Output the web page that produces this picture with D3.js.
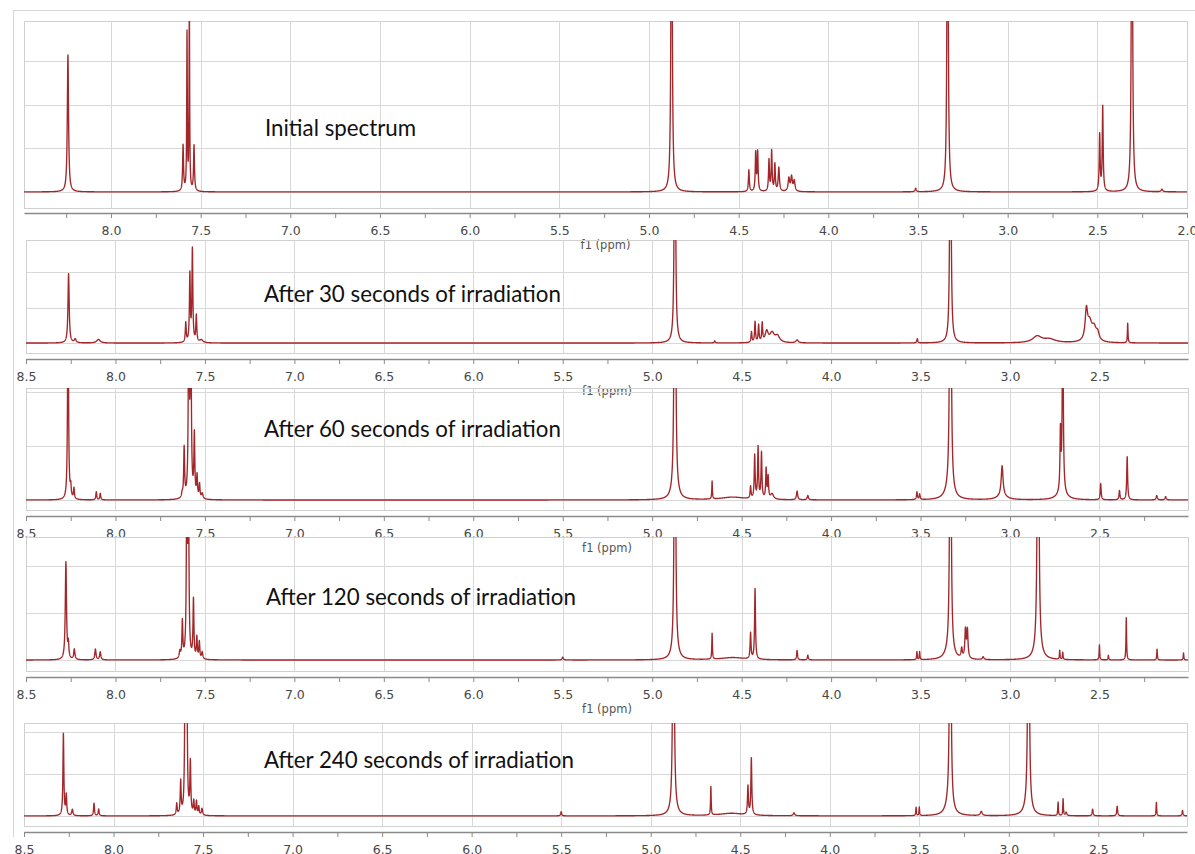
<!DOCTYPE html>
<html><head><meta charset="utf-8">
<script src="https://cdn.jsdelivr.net/npm/d3@7"></script>
<style>body{margin:0;background:#fff;} svg{display:block}</style>
</head><body>
<svg id="c" width="1195" height="854"></svg>
<script>
// ---------- DATA ----------
const panelTitles = [
  "Initial spectrum",
  "After 30 seconds of irradiation",
  "After 60 seconds of irradiation",
  "After 120 seconds of irradiation",
  "After 240 seconds of irradiation"
];
const axisLabel = "f1 (ppm)";
// peaks: [shift ppm, height (grid units), half-width ppm]
const peaksInitial = [
  [8.240, 3.15, 0.004], [7.598, 1.05, 0.003], [7.576, 3.6, 0.002], [7.563, 4.3, 0.002],
  [7.537, 1.05, 0.003], [4.874, 10, 0.0035], [4.443, 0.5, 0.003], [4.405, 0.88, 0.003],
  [4.394, 0.9, 0.003], [4.331, 0.72, 0.003], [4.316, 0.92, 0.003], [4.298, 0.62, 0.003],
  [4.276, 0.55, 0.004], [4.220, 0.3, 0.005], [4.205, 0.33, 0.005], [4.190, 0.24, 0.005],
  [3.513, 0.08, 0.004], [3.335, 10, 0.0035], [2.487, 1.3, 0.003], [2.470, 1.95, 0.003],
  [2.307, 10, 0.0035], [2.140, 0.06, 0.005]
];
const peaks30s = [
  [8.262, 1.95, 0.004], [8.225, 0.1, 0.006], [8.095, 0.1, 0.012], [7.607, 0.55, 0.003],
  [7.584, 1.9, 0.003], [7.570, 2.6, 0.003], [7.548, 0.75, 0.003], [7.520, 0.08, 0.01],
  [4.873, 10, 0.0035], [4.650, 0.06, 0.003], [4.445, 0.3, 0.003], [4.425, 0.58, 0.003],
  [4.405, 0.48, 0.003], [4.385, 0.52, 0.003], [4.360, 0.3, 0.01], [4.330, 0.26, 0.015],
  [4.300, 0.18, 0.015], [4.190, 0.08, 0.008], [3.518, 0.12, 0.003], [3.333, 10, 0.0035],
  [2.848, 0.18, 0.03], [2.780, 0.1, 0.04], [2.573, 0.8, 0.008], [2.555, 0.5, 0.015],
  [2.530, 0.35, 0.015], [2.510, 0.2, 0.01], [2.342, 0.55, 0.002]
];
const peaks60s = [
  [8.265, 4, 0.003], [8.250, 0.2, 0.003], [8.232, 0.2, 0.003], [8.107, 0.15, 0.003],
  [8.085, 0.12, 0.003], [7.627, 0.08, 0.004], [7.616, 0.92, 0.003], [7.590, 4, 0.003],
  [7.579, 4, 0.003], [7.559, 1.15, 0.003], [7.544, 0.4, 0.003], [7.530, 0.26, 0.003],
  [7.515, 0.1, 0.005], [4.873, 10, 0.0035], [4.873, 0.1, 0.02], [4.665, 0.33, 0.002],
  [4.550, 0.05, 0.08], [4.450, 0.22, 0.003], [4.427, 0.8, 0.003], [4.408, 0.95, 0.003],
  [4.389, 0.85, 0.003], [4.363, 0.55, 0.003], [4.352, 0.4, 0.003], [4.330, 0.1, 0.01],
  [4.190, 0.16, 0.004], [4.130, 0.08, 0.004], [3.520, 0.14, 0.003], [3.505, 0.1, 0.003],
  [3.333, 10, 0.0035], [3.340, 0.15, 0.025], [3.044, 0.55, 0.006], [3.044, 0.08, 0.03],
  [2.718, 1.1, 0.003], [2.705, 4, 0.003], [2.710, 0.12, 0.03], [2.493, 0.3, 0.003],
  [2.388, 0.17, 0.003], [2.345, 0.8, 0.003], [2.180, 0.08, 0.004], [2.130, 0.06, 0.004]
];
const peaks120s = [
  [8.277, 2.08, 0.004], [8.263, 0.3, 0.003], [8.230, 0.22, 0.004], [8.112, 0.23, 0.004],
  [8.085, 0.17, 0.004], [7.640, 0.15, 0.004], [7.626, 0.78, 0.003], [7.601, 4, 0.003],
  [7.592, 4, 0.003], [7.564, 1.25, 0.003], [7.545, 0.45, 0.003], [7.531, 0.36, 0.003],
  [7.515, 0.15, 0.004], [5.500, 0.06, 0.004], [4.873, 10, 0.0035], [4.870, 0.1, 0.02],
  [4.665, 0.55, 0.002], [4.550, 0.05, 0.08], [4.450, 0.55, 0.003], [4.425, 1.5, 0.003],
  [4.190, 0.2, 0.003], [4.130, 0.1, 0.003], [3.520, 0.17, 0.002], [3.505, 0.17, 0.002],
  [3.333, 10, 0.0035], [3.340, 0.15, 0.025], [3.270, 0.2, 0.004], [3.249, 0.6, 0.004],
  [3.238, 0.6, 0.004], [3.150, 0.06, 0.005], [2.843, 10, 0.004], [2.843, 0.12, 0.025],
  [2.722, 0.19, 0.002], [2.705, 0.15, 0.002], [2.500, 0.32, 0.002], [2.450, 0.1, 0.002],
  [2.350, 0.9, 0.002], [2.178, 0.23, 0.002], [2.030, 0.15, 0.002]
];
const peaks240s = [
  [8.280, 1.95, 0.003], [8.264, 0.48, 0.003], [8.230, 0.15, 0.004], [8.109, 0.3, 0.003],
  [8.083, 0.16, 0.003], [7.647, 0.27, 0.003], [7.625, 0.78, 0.003], [7.600, 4, 0.003],
  [7.591, 4, 0.003], [7.571, 1.22, 0.003], [7.552, 0.32, 0.003], [7.537, 0.32, 0.003],
  [7.524, 0.2, 0.003], [7.506, 0.16, 0.004], [5.500, 0.1, 0.003], [4.873, 10, 0.0035],
  [4.870, 0.1, 0.02], [4.664, 0.68, 0.002], [4.550, 0.06, 0.08], [4.457, 0.68, 0.003],
  [4.438, 1.35, 0.003], [4.200, 0.07, 0.005], [3.518, 0.2, 0.002], [3.500, 0.2, 0.002],
  [3.327, 10, 0.0035], [3.335, 0.25, 0.02], [3.154, 0.1, 0.006], [2.890, 10, 0.0035],
  [2.895, 0.2, 0.02], [2.725, 0.32, 0.002], [2.697, 0.4, 0.002], [2.680, 0.08, 0.004],
  [2.532, 0.16, 0.003], [2.395, 0.23, 0.003], [2.176, 0.32, 0.002], [2.030, 0.13, 0.003]
];
const allPeaks = [peaksInitial, peaks30s, peaks60s, peaks120s, peaks240s];
const ppmDomains = [[8.485, 2.0], [8.5, 2.005], [8.5, 2.005], [8.5, 2.005], [8.5, 2.005]];
const yDomains = [[-0.37, 3.93], [-0.28, 2.9], [-0.185, 2.07], [-0.234, 2.62], [-0.24, 2.21]];
const majorStep = 0.5, minorStep = 0.25;

// ---------- LAYOUT ----------
const layout = [
  {x0: 24, x1: 1187, top: 21, bottom: 208, axisY: 213, tx: 265, ty: 128, showLabel: true},
  {x0: 26, x1: 1188, top: 240, bottom: 353, axisY: 359, tx: 264, ty: 294, showLabel: true},
  {x0: 26, x1: 1188, top: 388, bottom: 510, axisY: 516, tx: 264, ty: 429, showLabel: true},
  {x0: 26, x1: 1188, top: 537, bottom: 671, axisY: 677, tx: 266, ty: 597, showLabel: true},
  {x0: 24, x1: 1187, top: 723, bottom: 826, axisY: 832, tx: 264, ty: 760, showLabel: false}
];
const lineColor = "#a1272b";
const svg = d3.select("#c");

// outer frame lines
svg.append("line").attr("x1", 13.5).attr("x2", 13.5).attr("y1", 10).attr("y2", 837)
  .attr("stroke", "#d6d6d6").attr("stroke-width", 1);
svg.append("line").attr("x1", 13).attr("x2", 1195).attr("y1", 10.5).attr("y2", 10.5)
  .attr("stroke", "#d6d6d6").attr("stroke-width", 1);

function lorentz(ppm, peaks) {
  let s = 0;
  for (const [c, h, w] of peaks) { const d = (ppm - c) / w; s += h / (1 + d * d); }
  return s;
}

layout.forEach((L, i) => {
  const dom = ppmDomains[i];
  const x = d3.scaleLinear().domain(dom).range([L.x0, L.x1]);
  const y = d3.scaleLinear().domain(yDomains[i]).range([L.bottom, L.top]);
  const g = svg.append("g");

  // grid
  const major = d3.range(Math.ceil(dom[1] / majorStep) * majorStep, dom[0] + 1e-9, majorStep)
    .map(v => +v.toFixed(2));
  g.append("g").selectAll("line").data(major.filter(v => v > dom[1] + 1e-6 && v < dom[0] - 1e-6)).join("line")
    .attr("x1", d => Math.round(x(d)) + 0.5).attr("x2", d => Math.round(x(d)) + 0.5)
    .attr("y1", L.top).attr("y2", L.bottom).attr("stroke", "#d8d8d8");
  const hgrid = d3.range(0, Math.floor(yDomains[i][1]) + 1);
  g.append("g").selectAll("line").data(hgrid).join("line")
    .attr("x1", L.x0).attr("x2", L.x1)
    .attr("y1", d => Math.round(y(d)) + 0.5).attr("y2", d => Math.round(y(d)) + 0.5)
    .attr("stroke", "#d8d8d8");
  g.append("rect").attr("x", L.x0 + 0.5).attr("y", L.top + 0.5)
    .attr("width", L.x1 - L.x0).attr("height", L.bottom - L.top)
    .attr("fill", "none").attr("stroke", "#d0d0d0");

  // spectrum
  const clipId = "clip" + i;
  svg.append("clipPath").attr("id", clipId).append("rect")
    .attr("x", L.x0).attr("y", L.top).attr("width", L.x1 - L.x0).attr("height", L.bottom - L.top);
  const pts = [];
  for (let p = dom[0]; p >= dom[1]; p -= 0.0005) pts.push([p, lorentz(p, allPeaks[i])]);
  const line = d3.line().x(d => x(d[0])).y(d => y(d[1]));
  g.append("path").attr("clip-path", `url(#${clipId})`).attr("d", line(pts))
    .attr("fill", "none").attr("stroke", lineColor).attr("stroke-width", 1.35)
    .attr("stroke-linejoin", "round");

  // axis
  const ticks = d3.range(Math.ceil(dom[1] / minorStep - 1e-6) * minorStep, dom[0] + 1e-6, minorStep)
    .map(v => +v.toFixed(2));
  const axis = d3.axisBottom(x).tickValues(ticks).tickSizeInner(5).tickSizeOuter(0)
    .tickPadding(8)
    .tickFormat(v => Math.abs(v / majorStep - Math.round(v / majorStep)) < 1e-6 ? d3.format(".1f")(v) : "");
  const ag = g.append("g").attr("transform", `translate(0,${L.axisY})`).call(axis);
  ag.select(".domain").attr("stroke", "#8a8a8a").attr("stroke-width", 1.5);
  ag.selectAll(".tick line").attr("stroke", "#8a8a8a");
  ag.selectAll(".tick text").attr("fill", "#474747").attr("font-family", "DejaVu Sans")
    .attr("font-size", 12.5);
  if (L.showLabel) {
    g.append("text").attr("x", x((dom[0] + dom[1]) / 2)).attr("y", L.axisY + 36)
      .attr("text-anchor", "middle").attr("font-family", "DejaVu Sans").attr("font-size", 11.5)
      .attr("fill", "#555").text(axisLabel);
  }

  // title
  g.append("text").attr("x", L.tx).attr("y", L.ty).attr("dy", "0.35em")
    .attr("font-family", "Lato").attr("font-size", 22.3).attr("fill", "#111")
    .text(panelTitles[i]);
});
</script>
</body></html>
